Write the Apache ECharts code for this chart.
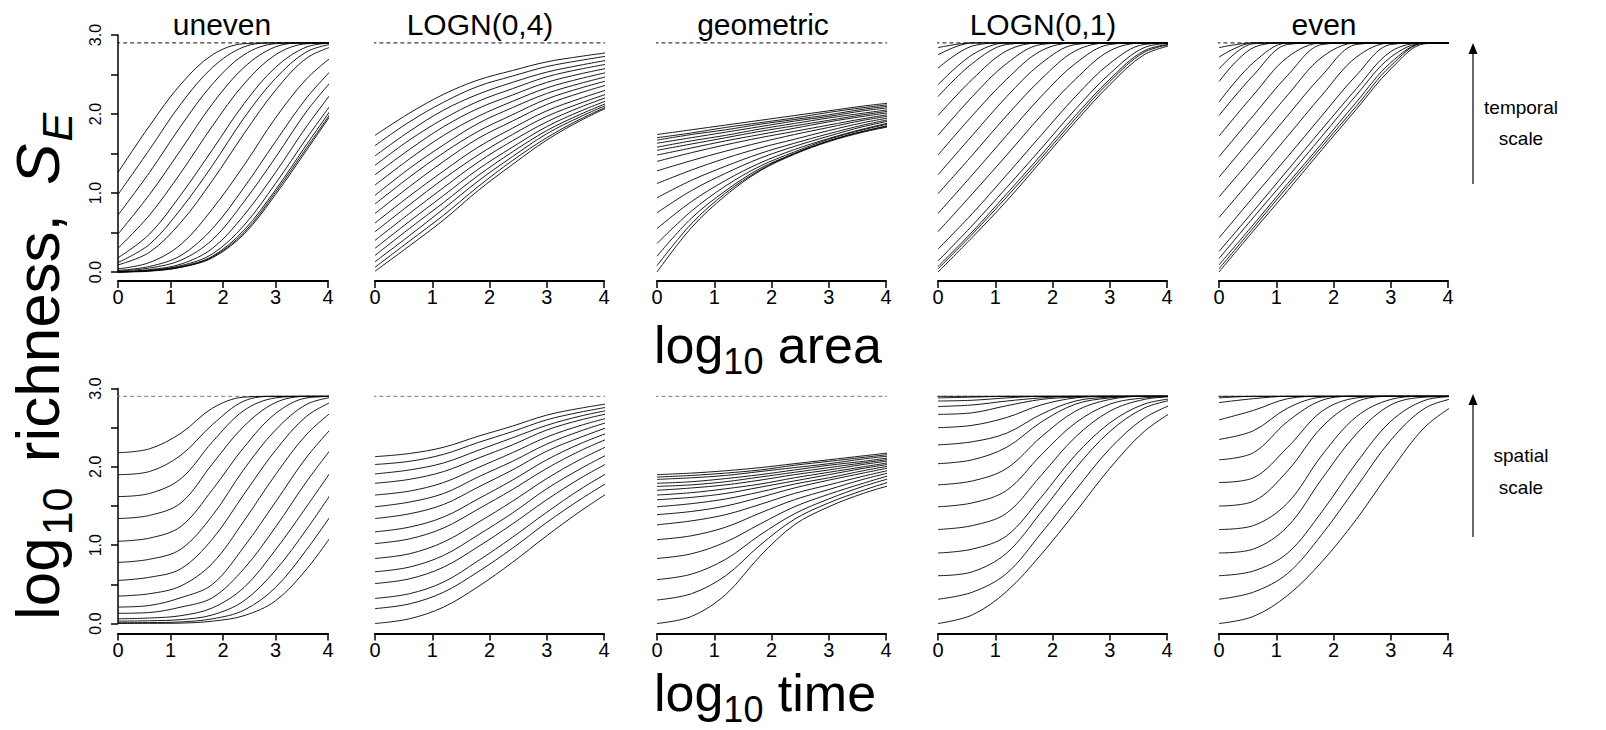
<!DOCTYPE html>
<html><head><meta charset="utf-8">
<script src="https://cdn.jsdelivr.net/npm/echarts@6/dist/echarts.min.js"></script>
<style>html,body{margin:0;padding:0;background:#fff}#c{width:1606px;height:730px}</style>
</head><body><div id="c"></div>
<script>
// ---------- data ----------
const xGrid = [0, 0.6, 1.2, 1.8, 2.4, 3.0, 3.6, 4.2];
const panelTitles = ['uneven', 'LOGN(0,4)', 'geometric', 'LOGN(0,1)', 'even'];
const xTickLabels = ['0', '1', '2', '3', '4'];
const yTickValues = [0, 1, 2, 3];
const yTickLabels = ['0.0', '1.0', '2.0', '3.0'];
const saturation = 2.9;

// top row: log10 richness vs log10 area (one curve per time scale)
const areaUneven = [
[1.26,1.85,2.38,2.75,2.89,2.90,2.90,2.90],
[0.98,1.55,2.13,2.59,2.85,2.90,2.90,2.90],
[0.72,1.26,1.85,2.38,2.75,2.89,2.90,2.90],
[0.48,0.98,1.55,2.13,2.59,2.85,2.90,2.90],
[0.30,0.72,1.26,1.85,2.38,2.75,2.89,2.90],
[0.18,0.48,0.98,1.55,2.13,2.59,2.85,2.90],
[0.12,0.35,0.80,1.35,1.95,2.45,2.79,2.90],
[0.09,0.25,0.63,1.16,1.75,2.30,2.71,2.88],
[0.04,0.12,0.35,0.80,1.35,1.95,2.45,2.79],
[0.02,0.07,0.21,0.55,1.07,1.65,2.21,2.65],
[0.01,0.05,0.15,0.41,0.89,1.45,2.04,2.52],
[0.00,0.03,0.10,0.30,0.72,1.26,1.85,2.38],
[0.00,0.02,0.08,0.23,0.59,1.12,1.70,2.25],
[0.00,0.02,0.07,0.20,0.53,1.04,1.62,2.19],
[0.00,0.015,0.06,0.19,0.50,1.01,1.58,2.15],
[0.00,0.01,0.06,0.18,0.48,0.98,1.55,2.13]
];
const areaLogn4 = [
[1.73,2.01,2.25,2.43,2.55,2.66,2.73,2.79],
[1.60,1.90,2.15,2.35,2.48,2.60,2.68,2.75],
[1.47,1.78,2.05,2.25,2.40,2.53,2.62,2.70],
[1.35,1.67,1.94,2.16,2.32,2.47,2.57,2.65],
[1.23,1.55,1.84,2.07,2.24,2.40,2.51,2.60],
[1.10,1.43,1.73,1.97,2.16,2.33,2.45,2.55],
[0.97,1.31,1.61,1.88,2.08,2.26,2.39,2.50],
[0.86,1.20,1.51,1.78,1.99,2.19,2.33,2.45],
[0.74,1.08,1.40,1.69,1.91,2.12,2.27,2.40],
[0.62,0.96,1.28,1.58,1.82,2.04,2.20,2.34],
[0.51,0.85,1.18,1.48,1.74,1.97,2.14,2.29],
[0.40,0.74,1.07,1.39,1.66,1.90,2.09,2.25],
[0.30,0.64,0.97,1.30,1.58,1.84,2.04,2.21],
[0.21,0.55,0.88,1.22,1.52,1.79,2.00,2.18],
[0.13,0.46,0.80,1.15,1.46,1.75,1.97,2.16],
[0.06,0.39,0.72,1.08,1.41,1.70,1.94,2.14],
[0.01,0.33,0.66,1.03,1.36,1.67,1.92,2.13]
];
const areaGeometric = [
[1.74,1.80,1.86,1.92,1.98,2.04,2.10,2.15],
[1.70,1.76,1.83,1.89,1.95,2.02,2.08,2.13],
[1.67,1.74,1.80,1.87,1.93,1.99,2.06,2.11],
[1.63,1.70,1.77,1.84,1.91,1.97,2.04,2.09],
[1.58,1.66,1.73,1.81,1.88,1.95,2.01,2.07],
[1.54,1.62,1.70,1.78,1.85,1.92,1.99,2.05],
[1.48,1.57,1.66,1.74,1.82,1.90,1.97,2.03],
[1.40,1.51,1.61,1.70,1.78,1.86,1.94,2.01],
[1.28,1.41,1.53,1.64,1.74,1.83,1.92,1.99],
[1.12,1.29,1.44,1.57,1.68,1.79,1.89,1.97],
[0.94,1.16,1.34,1.50,1.63,1.75,1.86,1.95],
[0.75,1.03,1.25,1.44,1.59,1.72,1.84,1.93],
[0.55,0.89,1.16,1.38,1.55,1.69,1.81,1.91],
[0.36,0.77,1.09,1.34,1.52,1.68,1.80,1.90],
[0.20,0.68,1.03,1.31,1.50,1.66,1.78,1.88],
[0.08,0.61,1.00,1.29,1.50,1.66,1.78,1.87],
[0.00,0.56,0.97,1.28,1.49,1.65,1.77,1.86]
];
const areaLogn1 = [
[2.84,2.90,2.90,2.90,2.90,2.90,2.90,2.90],
[2.75,2.90,2.90,2.90,2.90,2.90,2.90,2.90],
[2.58,2.86,2.90,2.90,2.90,2.90,2.90,2.90],
[2.37,2.75,2.90,2.90,2.90,2.90,2.90,2.90],
[2.22,2.64,2.88,2.90,2.90,2.90,2.90,2.90],
[1.98,2.44,2.80,2.90,2.90,2.90,2.90,2.90],
[1.73,2.22,2.64,2.88,2.90,2.90,2.90,2.90],
[1.48,1.98,2.44,2.80,2.90,2.90,2.90,2.90],
[1.23,1.73,2.22,2.64,2.88,2.90,2.90,2.90],
[0.99,1.48,1.98,2.44,2.80,2.90,2.90,2.90],
[0.74,1.23,1.73,2.22,2.64,2.88,2.90,2.90],
[0.51,0.99,1.48,1.98,2.44,2.80,2.90,2.90],
[0.29,0.74,1.23,1.73,2.22,2.64,2.88,2.90],
[0.14,0.59,1.07,1.56,2.06,2.51,2.84,2.90],
[0.07,0.51,0.99,1.48,1.98,2.44,2.80,2.90],
[0.04,0.48,0.95,1.44,1.94,2.41,2.78,2.90],
[0.00,0.44,0.90,1.40,1.90,2.37,2.75,2.89]
];
const areaEven = [
[2.84,2.90,2.90,2.90,2.90,2.90,2.90,2.90],
[2.72,2.90,2.90,2.90,2.90,2.90,2.90,2.90],
[2.57,2.89,2.90,2.90,2.90,2.90,2.90,2.90],
[2.41,2.84,2.90,2.90,2.90,2.90,2.90,2.90],
[2.15,2.65,2.90,2.90,2.90,2.90,2.90,2.90],
[1.98,2.49,2.88,2.90,2.90,2.90,2.90,2.90],
[1.72,2.24,2.72,2.90,2.90,2.90,2.90,2.90],
[1.46,1.98,2.49,2.88,2.90,2.90,2.90,2.90],
[1.20,1.72,2.24,2.72,2.90,2.90,2.90,2.90],
[0.95,1.46,1.98,2.49,2.88,2.90,2.90,2.90],
[0.69,1.20,1.72,2.24,2.72,2.90,2.90,2.90],
[0.43,0.95,1.46,1.98,2.49,2.88,2.90,2.90],
[0.26,0.77,1.29,1.81,2.32,2.79,2.90,2.90],
[0.17,0.69,1.20,1.72,2.24,2.72,2.90,2.90],
[0.09,0.60,1.12,1.63,2.15,2.65,2.90,2.90],
[0.04,0.56,1.08,1.59,2.10,2.61,2.90,2.90],
[0.00,0.52,1.03,1.55,2.06,2.57,2.89,2.90]
];

// bottom row: log10 richness vs log10 time (one curve per spatial scale)
const timeUneven = [
[2.18,2.23,2.43,2.75,2.89,2.90,2.90,2.90],
[1.90,1.94,2.15,2.54,2.84,2.90,2.90,2.90],
[1.62,1.66,1.85,2.32,2.72,2.88,2.90,2.90],
[1.34,1.38,1.54,2.04,2.52,2.82,2.90,2.90],
[1.05,1.09,1.24,1.71,2.25,2.68,2.88,2.90],
[0.78,0.82,0.95,1.38,1.97,2.47,2.80,2.90],
[0.55,0.59,0.70,1.08,1.65,2.21,2.65,2.87],
[0.35,0.38,0.48,0.77,1.31,1.90,2.42,2.77],
[0.21,0.23,0.33,0.50,0.98,1.55,2.13,2.59],
[0.13,0.14,0.21,0.33,0.70,1.23,1.82,2.35],
[0.06,0.07,0.10,0.20,0.46,0.94,1.50,2.08],
[0.03,0.035,0.05,0.11,0.29,0.68,1.21,1.80],
[0.01,0.012,0.02,0.06,0.17,0.46,0.95,1.52],
[0.00,0.002,0.005,0.03,0.10,0.29,0.70,1.25]
];
const timeLogn4 = [
[2.13,2.17,2.25,2.39,2.52,2.66,2.75,2.82],
[2.03,2.07,2.16,2.31,2.45,2.60,2.70,2.78],
[1.91,1.96,2.05,2.21,2.37,2.53,2.65,2.74],
[1.79,1.84,1.94,2.11,2.28,2.47,2.60,2.70],
[1.64,1.69,1.80,1.99,2.18,2.38,2.53,2.65],
[1.49,1.55,1.66,1.87,2.07,2.29,2.46,2.60],
[1.34,1.40,1.52,1.74,1.96,2.20,2.38,2.54],
[1.17,1.23,1.36,1.59,1.83,2.09,2.30,2.47],
[1.02,1.08,1.22,1.46,1.71,1.98,2.21,2.40],
[0.83,0.89,1.04,1.29,1.56,1.85,2.10,2.31],
[0.66,0.72,0.87,1.13,1.41,1.72,1.98,2.21],
[0.51,0.57,0.72,0.98,1.27,1.58,1.86,2.10],
[0.32,0.38,0.53,0.80,1.10,1.42,1.72,1.98],
[0.19,0.25,0.40,0.66,0.96,1.29,1.59,1.86],
[0.00,0.06,0.21,0.47,0.78,1.12,1.44,1.73]
];
const timeGeometric = [
[1.90,1.92,1.95,1.99,2.04,2.09,2.14,2.19],
[1.87,1.89,1.92,1.96,2.02,2.07,2.12,2.17],
[1.84,1.86,1.89,1.94,1.99,2.04,2.10,2.15],
[1.79,1.81,1.85,1.90,1.96,2.02,2.07,2.13],
[1.75,1.77,1.81,1.87,1.93,1.99,2.05,2.11],
[1.70,1.73,1.77,1.83,1.90,1.96,2.03,2.09],
[1.64,1.67,1.72,1.78,1.86,1.93,2.00,2.07],
[1.58,1.61,1.66,1.74,1.82,1.90,1.98,2.05],
[1.49,1.53,1.59,1.68,1.78,1.86,1.95,2.03],
[1.39,1.43,1.50,1.61,1.73,1.83,1.92,2.01],
[1.26,1.31,1.39,1.52,1.66,1.77,1.88,1.98],
[1.07,1.12,1.23,1.41,1.58,1.71,1.84,1.95],
[0.83,0.89,1.04,1.27,1.49,1.65,1.79,1.92],
[0.56,0.63,0.82,1.13,1.40,1.59,1.75,1.88],
[0.30,0.38,0.61,1.00,1.33,1.54,1.70,1.84],
[0.00,0.09,0.37,0.86,1.26,1.49,1.66,1.79]
];
const timeLogn1 = [
[2.90,2.90,2.90,2.90,2.90,2.90,2.90,2.90],
[2.88,2.89,2.90,2.90,2.90,2.90,2.90,2.90],
[2.84,2.85,2.88,2.90,2.90,2.90,2.90,2.90],
[2.77,2.79,2.84,2.88,2.90,2.90,2.90,2.90],
[2.67,2.69,2.78,2.86,2.89,2.90,2.90,2.90],
[2.50,2.53,2.63,2.79,2.88,2.90,2.90,2.90],
[2.28,2.32,2.43,2.67,2.84,2.89,2.90,2.90],
[2.04,2.09,2.25,2.57,2.80,2.88,2.90,2.90],
[1.77,1.82,1.98,2.38,2.71,2.86,2.90,2.90],
[1.49,1.54,1.70,2.15,2.56,2.80,2.88,2.90],
[1.20,1.25,1.41,1.89,2.38,2.71,2.86,2.90],
[0.90,0.95,1.12,1.61,2.15,2.56,2.80,2.88],
[0.61,0.66,0.90,1.42,1.98,2.45,2.75,2.87],
[0.31,0.40,0.64,1.15,1.70,2.23,2.62,2.83],
[0.00,0.11,0.41,0.88,1.42,1.98,2.45,2.75]
];
const timeEven = [
[2.90,2.90,2.90,2.90,2.90,2.90,2.90,2.90],
[2.88,2.90,2.90,2.90,2.90,2.90,2.90,2.90],
[2.82,2.87,2.90,2.90,2.90,2.90,2.90,2.90],
[2.60,2.72,2.87,2.90,2.90,2.90,2.90,2.90],
[2.35,2.46,2.75,2.89,2.90,2.90,2.90,2.90],
[2.09,2.18,2.58,2.85,2.90,2.90,2.90,2.90],
[1.80,1.86,2.25,2.71,2.88,2.90,2.90,2.90],
[1.50,1.56,1.95,2.51,2.83,2.90,2.90,2.90],
[1.20,1.25,1.54,2.15,2.64,2.86,2.90,2.90],
[0.90,0.95,1.24,1.85,2.42,2.79,2.89,2.90],
[0.61,0.67,0.90,1.43,2.05,2.58,2.85,2.90],
[0.31,0.40,0.64,1.14,1.74,2.34,2.75,2.89],
[0.00,0.09,0.36,0.79,1.33,1.95,2.51,2.83]
];

const rows = [
  [areaUneven, areaLogn4, areaGeometric, areaLogn1, areaEven],
  [timeUneven, timeLogn4, timeGeometric, timeLogn1, timeEven]
];

// ---------- layout ----------
const FONT = '"Liberation Sans", Arial, Helvetica, sans-serif';
const panelLeft = [118, 375, 657, 938, 1219];
const panelWidth = [210, 229, 229, 229, 229];
const rowTop = [35, 388.5];
const rowHeight = [237, 235];
const axisOffset = [9, 10];
const refColor = ['#111', '#777'];
const titleX = [222, 480, 763, 1043, 1324];
const plotRange = [-0.168, 4.368];

const grid = [], xAxis = [], yAxis = [], series = [];
let idx = 0;
for (let r = 0; r < 2; r++) {
  for (let c = 0; c < 5; c++) {
    grid.push({left: panelLeft[c], top: rowTop[r], width: panelWidth[c], height: rowHeight[r], containLabel: false});
    xAxis.push({
      gridIndex: idx, type: 'value', min: 0, max: 4, interval: 1, offset: axisOffset[r],
      axisLine: {show: true, onZero: false, lineStyle: {color: '#000', width: 2}},
      axisTick: {show: true, length: 7, lineStyle: {color: '#000', width: 1.5}},
      axisLabel: {show: true, color: '#000', fontSize: 20, fontFamily: FONT, margin: 6,
        formatter: v => xTickLabels[Math.round(v)]},
      splitLine: {show: false}
    });
    if (c === 0) {
      yAxis.push({
        gridIndex: idx, type: 'value', min: 0, max: 3, interval: 0.5,
        axisLine: {show: true, onZero: false, lineStyle: {color: '#000', width: 1.5}},
        axisTick: {show: true, length: 7, lineStyle: {color: '#000', width: 1.5}},
        axisLabel: {show: true, rotate: 90, color: '#000', fontSize: 16, fontFamily: FONT, margin: 15,
          formatter: v => { const k = yTickValues.indexOf(v); return k >= 0 ? yTickLabels[k] : ''; }},
        splitLine: {show: false}
      });
    } else {
      yAxis.push({gridIndex: idx, type: 'value', min: 0, max: 3, show: false, splitLine: {show: false}});
    }
    series.push({
      type: 'line', xAxisIndex: idx, yAxisIndex: idx, symbol: 'none', clip: false, silent: true,
      data: [[plotRange[0], saturation], [plotRange[1], saturation]],
      lineStyle: {color: refColor[r], width: 1, type: [4, 3]}, z: 1
    });
    rows[r][c].forEach(vals => {
      series.push({
        type: 'line', xAxisIndex: idx, yAxisIndex: idx, symbol: 'none', clip: false, silent: true,
        smooth: 0.35,
        data: vals.map((v, i) => [xGrid[i], v]),
        lineStyle: {color: '#000', width: 0.9}, z: 2
      });
    });
    idx++;
  }
}

// ---------- texts ----------
function txt(x, y, text, size, extra) {
  return Object.assign({type: 'text', x: x, y: y, silent: true,
    style: Object.assign({text: text, fontSize: size, fontFamily: FONT, fill: '#000',
      textAlign: 'left', textVerticalAlign: 'middle'}, extra || {})});
}
const C = 0.3465; // central-baseline offset (em)
const graphic = [];
panelTitles.forEach((t, i) => graphic.push(txt(titleX[i], 24, t, 30, {textAlign: 'center'})));

// x-axis titles: log10 area / log10 time
function xTitle(startX, baseline, word) {
  const F = 52, S = 36;
  graphic.push(txt(startX, baseline - C * F, 'log', F));
  graphic.push(txt(startX + 1.334 * F, baseline + 11 - C * S, '10', S));
  graphic.push(txt(startX + 1.334 * F + 1.112 * S, baseline - C * F, ' ' + word, F));
}
xTitle(654, 363, 'area');
xTitle(654, 711, 'time');

// y-axis title (rotated)
(function () {
  const F = 62, S = 43;
  const kids = [];
  const t = (x, y, text, size, extra) => ({type: 'text', x: x, y: y, silent: true,
    style: Object.assign({text: text, fontSize: size, fontFamily: FONT, fill: '#000',
      textAlign: 'left', textVerticalAlign: 'middle'}, extra || {})});
  let x = 0;
  kids.push(t(x, -C * F, 'log', F)); x += 1.334 * F + 2;
  kids.push(t(x, 0.2 * F - C * S, '10', S)); x += 1.112 * S + 8;
  kids.push(t(x, -C * F, ' richness, ', F)); x += 4.557 * F + 12;
  kids.push(t(x, -C * F, 'S', F, {fontStyle: 'italic'})); x += 0.667 * F + 2;
  kids.push(t(x, 0.2 * F - C * S, 'E', S, {fontStyle: 'italic'}));
  graphic.push({type: 'group', x: 59, y: 620, rotation: Math.PI / 2, children: kids});
})();

// right-side arrows
function arrow(x, yTail, yTip) {
  graphic.push({type: 'line', silent: true, shape: {x1: x, y1: yTail, x2: x, y2: yTip + 8},
    style: {stroke: '#000', lineWidth: 1.2}});
  graphic.push({type: 'polygon', silent: true, shape: {points: [[x, yTip], [x - 4.5, yTip + 11], [x + 4.5, yTip + 11]]},
    style: {fill: '#000'}});
}
arrow(1473, 184, 43);
arrow(1473, 537, 394);
graphic.push(txt(1521, 107.5, 'temporal', 19, {textAlign: 'center'}));
graphic.push(txt(1521, 138.3, 'scale', 19, {textAlign: 'center'}));
graphic.push(txt(1521, 455, 'spatial', 19, {textAlign: 'center'}));
graphic.push(txt(1521, 487.6, 'scale', 19, {textAlign: 'center'}));

const chart = echarts.init(document.getElementById('c'), null, {renderer: 'svg', width: 1606, height: 730});
chart.setOption({
  animation: false,
  backgroundColor: '#fff',
  grid: grid, xAxis: xAxis, yAxis: yAxis, series: series, graphic: graphic
});
</script>
</body></html>
